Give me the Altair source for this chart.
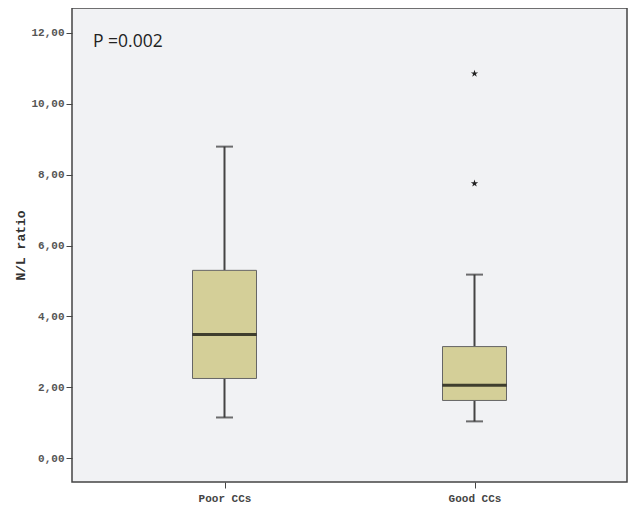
import altair as alt
import pandas as pd

categories = ["Poor CCs", "Good CCs"]
lower = [1.15, 1.04]
q1 = [2.25, 1.63]
median = [3.49, 2.06]
q3 = [5.30, 3.15]
upper = [8.79, 5.18]
outlier_high = [None, 10.85]
outlier_low = [None, 7.75]
y_ticks = [0, 2, 4, 6, 8, 10, 12]
p_label = "P =0.002"

df = pd.DataFrame({"cat": categories, "lower": lower, "q1": q1, "median": median,
                   "q3": q3, "upper": upper, "out_hi": outlier_high, "out_lo": outlier_low,
                   "plabel": [p_label, ""]})

STAR = ("M0,-1L0.2245,-0.309L0.951,-0.309L0.363,0.118L0.588,0.809L0,0.382"
        "L-0.588,0.809L-0.363,0.118L-0.951,-0.309L-0.2245,-0.309Z")

mono = "Liberation Mono"
xs = alt.Scale(type="point", padding=0.61, domain=categories)
ys = alt.Scale(domain=[-0.67, 12.7], nice=False, zero=False)

xaxis = alt.Axis(orient="bottom", labelAngle=0, labelFont=mono, labelFontSize=11, labelColor="#444",
                 labelFontWeight="bold", tickColor="#444", tickSize=6, domain=False,
                 labelPadding=4, grid=False)
yaxis = alt.Axis(orient="left", values=y_ticks,
                 labelExpr="replace(format(datum.value, '.2f'), '.', ',')",
                 labelFont=mono, labelFontSize=11, labelColor="#555", labelFontWeight="bold",
                 tickColor="#444", tickSize=6, domain=False, grid=False, labelPadding=2,
                 title="N/L ratio", titleFont=mono, titleFontSize=13, titleFontWeight="bold",
                 titleColor="#333", titleX=-52, titleY=237, titleAngle=-90,
                 titleAlign="center", titleBaseline="middle")

X = alt.X("cat:N", scale=xs, title=None, axis=xaxis)

def Y(f):
    return alt.Y(f, scale=ys, axis=yaxis, title="N/L ratio")

base = alt.Chart(df)
box = base.mark_bar(size=64, color="#D4CF98", stroke="#666", strokeWidth=1).encode(
    x=X, y=Y("q1:Q"), y2="q3:Q")
whisk_lo = base.mark_rule(color="#444", strokeWidth=2).encode(
    x=X, y=Y("lower:Q"), y2="q1:Q")
whisk_hi = base.mark_rule(color="#444", strokeWidth=2).encode(
    x=X, y=Y("q3:Q"), y2="upper:Q")
cap_lo = base.mark_tick(color="#333", size=17, thickness=2).encode(
    x=X, y=Y("lower:Q"))
cap_hi = base.mark_tick(color="#333", size=17, thickness=2).encode(
    x=X, y=Y("upper:Q"))
med = base.mark_tick(color="#000", size=64, thickness=3).encode(
    x=X, y=Y("median:Q"))
pts_hi = base.mark_point(shape=STAR, filled=True, size=60, color="#222", opacity=1).encode(
    x=X, y=Y("out_hi:Q"))
pts_lo = base.mark_point(shape=STAR, filled=True, size=60, color="#222", opacity=1).encode(
    x=X, y=Y("out_lo:Q"))
ptxt = base.mark_text(font="Open Sans", fontSize=17.5, color="#222", align="left",
                      baseline="middle").encode(
    text="plabel:N", x=alt.value(21), y=alt.value(34))

chart = alt.layer(whisk_lo, whisk_hi, cap_lo, cap_hi, box, med, pts_hi, pts_lo, ptxt).properties(
    width=555, height=474, padding={"left": 64, "top": 0, "right": 3, "bottom": 30},
    autosize=alt.AutoSizeParams(type="none"), background="white"
).configure_view(fill="#F1F2F4", stroke="#444", strokeWidth=1.5)

chart.save("out.html", embed_options={"renderer": "svg", "actions": False})
